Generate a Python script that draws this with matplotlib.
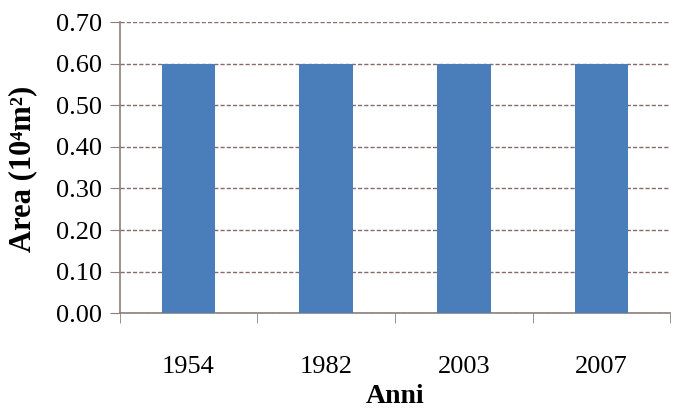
import matplotlib.pyplot as plt
import numpy as np

plt.rcParams.update({
    "font.family": ["Liberation Serif", "DejaVu Serif"],
    "figure.facecolor": "white",
    "axes.facecolor": "white",
})

years = ["1954", "1982", "2003", "2007"]
area = [0.60, 0.60, 0.60, 0.60]

BAR = "#4a7ebb"
SPINE = "#8c7f7b"
GRID = "#8b6a66"

fig = plt.figure(figsize=(6.84, 4.17), dpi=100)
ax = fig.add_axes([0.175, 0.249, 0.805, 0.698])

x = np.arange(len(years))
ax.bar(x, area, width=0.39, color=BAR, zorder=3)

ax.set_xlim(-0.5, len(years) - 0.5)
ax.set_ylim(0, 0.70)
ax.set_yticks(np.arange(0, 0.71, 0.10))
ax.set_yticklabels([f"{v:.2f}" for v in np.arange(0, 0.71, 0.10)])
ax.yaxis.grid(True, color=GRID, ls=(0, (3, 1.5)), lw=1.0, zorder=1)
ax.set_axisbelow(True)

ax.set_xticks(x)
ax.set_xticklabels(years)
ax.set_xticks(np.arange(-0.5, len(years)), minor=True)
ax.tick_params(axis="x", which="major", length=0, pad=31, labelsize=19)
ax.tick_params(axis="x", which="minor", length=7, color=SPINE, direction="out")
ax.tick_params(axis="y", length=7, color=SPINE, labelsize=19, pad=6)

for s in ["top", "right"]:
    ax.spines[s].set_visible(False)
for s in ["left", "bottom"]:
    ax.spines[s].set_color(SPINE)
    ax.spines[s].set_linewidth(1.2)

ax.set_xlabel("Anni", fontsize=20, fontweight="bold", labelpad=4)
ax.set_ylabel("Area (10⁴m²)", fontsize=22, fontweight="bold")
ax.yaxis.set_label_coords(-0.15, 0.495)

fig.savefig("out.png", dpi=100)
